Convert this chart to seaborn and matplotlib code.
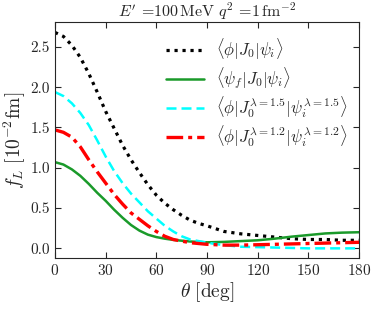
import matplotlib

matplotlib.use("Agg")
import matplotlib.pyplot as plt
import numpy as np
import pandas as pd
import seaborn as sns

# angle grid (deg) and f_L values (units 10^-2 fm)
theta = [0, 5, 10, 15, 20, 25, 30, 35, 40, 45, 50, 55, 60, 65, 70, 75, 80, 85, 90,
         100, 110, 120, 130, 140, 150, 160, 170, 180]
f_bare = [2.68, 2.63, 2.52, 2.37, 2.17, 1.94, 1.70, 1.49, 1.28, 1.10, 0.94, 0.79, 0.66,
          0.56, 0.48, 0.41, 0.35, 0.31, 0.28, 0.21, 0.18, 0.16, 0.14, 0.12, 0.11, 0.11,
          0.10, 0.10]
f_full = [1.07, 1.04, 0.98, 0.90, 0.80, 0.69, 0.59, 0.48, 0.38, 0.29, 0.22, 0.17, 0.14,
          0.12, 0.105, 0.095, 0.085, 0.08, 0.075, 0.08, 0.09, 0.10, 0.12, 0.145, 0.165,
          0.185, 0.195, 0.20]
f_lam15 = [1.94, 1.89, 1.80, 1.68, 1.53, 1.34, 1.14, 0.96, 0.81, 0.68, 0.57, 0.46, 0.37,
           0.28, 0.21, 0.15, 0.11, 0.09, 0.07, 0.04, 0.02, 0.015, 0.01, 0.005, 0.0, 0.0,
           0.0, 0.0]
f_lam12 = [1.47, 1.44, 1.38, 1.26, 1.10, 0.95, 0.81, 0.67, 0.55, 0.44, 0.36, 0.28, 0.21,
           0.15, 0.11, 0.09, 0.07, 0.06, 0.05, 0.04, 0.04, 0.045, 0.05, 0.055, 0.06,
           0.065, 0.07, 0.075]

labels = [
    r"$\langle\phi|J_0|\psi_i\rangle$",
    r"$\langle\psi_f|J_0|\psi_i\rangle$",
    r"$\langle\phi|J_0^{\lambda=1.5}|\psi_i^{\lambda=1.5}\rangle$",
    r"$\langle\phi|J_0^{\lambda=1.2}|\psi_i^{\lambda=1.2}\rangle$",
]
series = [f_bare, f_full, f_lam15, f_lam12]
colors = ["black", "#1a9a2a", "cyan", "red"]
styles = [(0, (1, 1.5)), "-", (0, (4, 2)), (0, (5, 1.5, 1.2, 1.5))]
widths = [2.3, 1.8, 1.8, 2.4]

sns.set_style("ticks")
plt.rcParams["font.family"] = "serif"
plt.rcParams["font.serif"] = ["cmr10", "DejaVu Serif"]
plt.rcParams["mathtext.fontset"] = "cm"
plt.rcParams["axes.formatter.use_mathtext"] = True

fig = plt.figure(figsize=(3.74, 3.09), dpi=100)
ax = fig.add_axes([0.147, 0.165, 0.813, 0.764])

for vals, lab, c, ls, lw in zip(series, labels, colors, styles, widths):
    df = pd.DataFrame({"theta": theta, "f": vals})
    sns.lineplot(data=df, x="theta", y="f", ax=ax, color=c, linestyle=ls,
                 linewidth=lw, label=lab)

ax.set_xlim(0, 180)
ax.set_ylim(-0.12, 2.81)
ax.set_xticks(np.arange(0, 181, 30))
ax.set_yticks(np.arange(0, 2.51, 0.5))
ax.yaxis.set_major_formatter(matplotlib.ticker.FormatStrFormatter("%.1f"))
ax.tick_params(direction="in", top=True, right=True, labelsize=11, length=4)
ax.set_xlabel(r"$\theta\ [\mathrm{deg}]$", fontsize=14, labelpad=2)
ax.set_ylabel(r"$f_L\ [10^{-2}\mathrm{fm}]$", fontsize=14, labelpad=2)
ax.set_title(r"$E'$ =100$\,$MeV $q^2$ =1$\,$fm$^{-2}$", fontsize=11.5, pad=4)
for sp in ax.spines.values():
    sp.set_linewidth(0.8)

ax.legend(loc="upper right", frameon=False, fontsize=12, handlelength=2.3,
          handletextpad=0.7, labelspacing=0.2, borderaxespad=0.3,
          bbox_to_anchor=(1.0, 0.985))

fig.savefig("out.png", dpi=100)
